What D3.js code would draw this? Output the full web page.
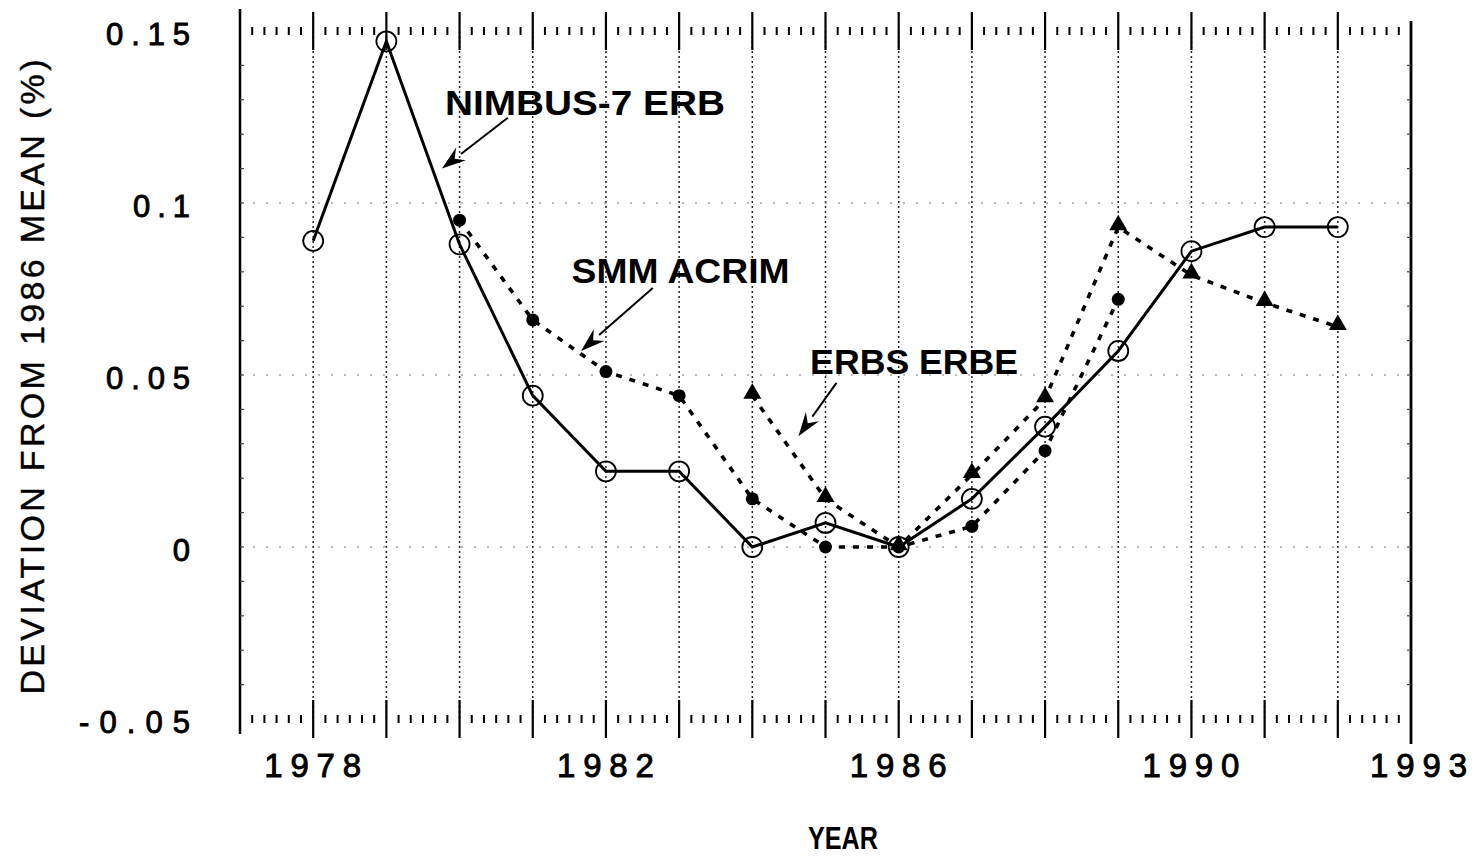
<!DOCTYPE html>
<html>
<head>
<meta charset="utf-8">
<script src="https://cdn.jsdelivr.net/npm/d3@7"></script>
<style>
  body { margin: 0; background: #fff; }
  svg { display: block; }
</style>
</head>
<body>
<svg id="chart" width="1476" height="857"></svg>
<script>
// data
var nimbusYears = [1978, 1979, 1980, 1981, 1982, 1983, 1984, 1985, 1986, 1987, 1988, 1989, 1990, 1991, 1992];
var nimbusValues = [0.089, 0.147, 0.088, 0.044, 0.022, 0.022, 0.0, 0.007, 0.0, 0.014, 0.035, 0.057, 0.086, 0.093, 0.093];

var acrimYears = [1980, 1981, 1982, 1983, 1984, 1985, 1986, 1987, 1988, 1989];
var acrimValues = [0.095, 0.066, 0.051, 0.044, 0.014, 0.0, 0.0, 0.006, 0.028, 0.072];

var erbeYears = [1984, 1985, 1986, 1987, 1988, 1989, 1990, 1991, 1992];
var erbeValues = [0.044, 0.014, 0.0, 0.021, 0.043, 0.093, 0.079, 0.071, 0.064];

var yTickValues = [0.15, 0.1, 0.05, 0, -0.05];
var yTickLabels = ["0.15", "0.1", "0.05", "0", "-0.05"];
var xTickValues = [1978, 1982, 1986, 1990, 1993];
var gridYears = d3.range(1978, 1993);
var hGrid = [0.1, 0.05, 0];

// plot box
var margin = {left: 240, right: 1411, top: 31, bottom: 719};

var x = d3.scaleLinear().domain([1977, 1993]).range([margin.left, margin.right]);
var y = d3.scaleLinear().domain([-0.05, 0.15]).range([margin.bottom, margin.top]);

var svg = d3.select("#chart");
var font = "'Liberation Sans', Arial, Helvetica, sans-serif";

// vertical dotted gridlines
svg.append("g").selectAll("line")
    .data(gridYears)
    .enter().append("line")
    .attr("x1", d => x(d)).attr("x2", d => x(d))
    .attr("y1", y(0.15)).attr("y2", y(-0.05))
    .attr("stroke", "#222")
    .attr("stroke-width", 1.5)
    .attr("stroke-dasharray", "2,3");

// faint horizontal gridlines
svg.append("g").selectAll("line")
    .data(hGrid)
    .enter().append("line")
    .attr("x1", x(1977)).attr("x2", x(1993))
    .attr("y1", d => y(d)).attr("y2", d => y(d))
    .attr("stroke", "#777")
    .attr("stroke-width", 1)
    .attr("stroke-dasharray", "2,11");

// spines
svg.append("line").attr("x1", x(1977)).attr("x2", x(1977))
    .attr("y1", y(0.15) - 22).attr("y2", y(-0.05) + 15)
    .attr("stroke", "#000").attr("stroke-width", 2.5);
svg.append("line").attr("x1", x(1993)).attr("x2", x(1993))
    .attr("y1", y(0.15) - 10).attr("y2", y(-0.05) + 25)
    .attr("stroke", "#000").attr("stroke-width", 2.8);

// tiny ticks on the spines every 0.01
var spineTicks = d3.range(-0.04, 0.1499, 0.01);
svg.append("g").selectAll("line")
    .data(spineTicks)
    .enter().append("line")
    .attr("x1", x(1977)).attr("x2", x(1977) + 4)
    .attr("y1", d => y(d)).attr("y2", d => y(d))
    .attr("stroke", "#444").attr("stroke-width", 1.2);
svg.append("g").selectAll("line")
    .data(spineTicks)
    .enter().append("line")
    .attr("x1", x(1993)).attr("x2", x(1993) - 4)
    .attr("y1", d => y(d)).attr("y2", d => y(d))
    .attr("stroke", "#444").attr("stroke-width", 1.2);

// top and bottom tick rows (no solid frame line)
var minorTicks = [];
d3.range(1977, 1993).forEach(function(yr) {
    for (var k = 1; k <= 5; k++) minorTicks.push(yr + k / 6);
});
[y(0.15), y(-0.05)].forEach(function(rowY) {
    var row = svg.append("g");
    row.selectAll("line.minor")
        .data(minorTicks)
        .enter().append("line")
        .attr("class", "minor")
        .attr("x1", d => x(d)).attr("x2", d => x(d))
        .attr("y1", rowY - 4).attr("y2", rowY + 4)
        .attr("stroke", "#000").attr("stroke-width", 2);
    row.selectAll("line.major")
        .data(gridYears)
        .enter().append("line")
        .attr("class", "major")
        .attr("x1", d => x(d)).attr("x2", d => x(d))
        .attr("y1", rowY - 19).attr("y2", rowY + 19)
        .attr("stroke", "#000").attr("stroke-width", 2.2);
});

// y tick labels
var yAxis = svg.append("g")
    .attr("transform", "translate(" + x(1977) + ",0)")
    .call(d3.axisLeft(y).tickValues(yTickValues).tickSize(0).tickPadding(50)
        .tickFormat((d, i) => yTickLabels[i]));
yAxis.select(".domain").remove();
yAxis.selectAll("text")
    .attr("dy", "0.45em")
    .attr("textLength", function() { return this.textContent.length > 1 ? (this.textContent.length - 1) * 27 + 3 : null; })
    .attr("lengthAdjust", "spacing")
    .style("font-family", font)
    .style("font-size", "31px")
    .style("fill", "#000")
    .style("stroke", "#000")
    .style("stroke-width", 0.9);

// x tick labels
var xAxis = svg.append("g")
    .attr("transform", "translate(0," + y(-0.05) + ")")
    .call(d3.axisBottom(x).tickValues(xTickValues).tickSize(0).tickPadding(35)
        .tickFormat(d3.format("d")));
xAxis.select(".domain").remove();
xAxis.selectAll("text")
    .attr("textLength", 97)
    .attr("lengthAdjust", "spacing")
    .attr("dx", d => d === 1993 ? 7 : -1)
    .style("font-family", font)
    .style("font-size", "33px")
    .style("fill", "#000")
    .style("stroke", "#000")
    .style("stroke-width", 0.9);

// axis titles
svg.append("text")
    .attr("transform", "translate(44," + ((y(0.15) + y(-0.05)) / 2 + 2) + ") rotate(-90)")
    .attr("text-anchor", "middle")
    .attr("textLength", 635)
    .attr("lengthAdjust", "spacing")
    .style("font-family", font)
    .style("font-size", "34px")
    .style("stroke", "#000").style("stroke-width", 0.4)
    .text("DEVIATION FROM 1986 MEAN (%)");

svg.append("text")
    .attr("x", 843).attr("y", 849)
    .attr("text-anchor", "middle")
    .attr("textLength", 70)
    .attr("lengthAdjust", "spacingAndGlyphs")
    .style("font-family", font)
    .style("font-size", "32px")
    .style("font-weight", "bold")
    .text("YEAR");

// series lines
var line = d3.line().x(d => x(d[0])).y(d => y(d[1]));
var nimbus = d3.zip(nimbusYears, nimbusValues);
var acrim = d3.zip(acrimYears, acrimValues);
var erbe = d3.zip(erbeYears, erbeValues);

[acrim, erbe].forEach(function(series) {
    svg.append("path")
        .datum(series)
        .attr("d", line)
        .attr("fill", "none")
        .attr("stroke", "#000")
        .attr("stroke-width", 3.6)
        .attr("stroke-dasharray", "6,8");
});
svg.append("path")
    .datum(nimbus)
    .attr("d", line)
    .attr("fill", "none")
    .attr("stroke", "#000")
    .attr("stroke-width", 3);

// markers
svg.append("g").selectAll("circle")
    .data(acrim)
    .enter().append("circle")
    .attr("cx", d => x(d[0])).attr("cy", d => y(d[1]))
    .attr("r", 6.5)
    .attr("fill", "#000");

svg.append("g").selectAll("path")
    .data(erbe)
    .enter().append("path")
    .attr("d", d3.symbol().type(d3.symbolTriangle).size(140))
    .attr("transform", d => "translate(" + x(d[0]) + "," + (y(d[1]) - 2) + ")")
    .attr("fill", "#000");

svg.append("g").selectAll("circle")
    .data(nimbus)
    .enter().append("circle")
    .attr("cx", d => x(d[0])).attr("cy", d => y(d[1]))
    .attr("r", 10)
    .attr("fill", "none")
    .attr("stroke", "#000")
    .attr("stroke-width", 1.8);

// annotations, in data units
var notes = [
    {label: "NIMBUS-7  ERB", tx: 1979.80, ty: 0.1255, len: 280, x0: 1980.66, y0: 0.1248, x1: 1979.76, y1: 0.1100},
    {label: "SMM ACRIM", tx: 1981.53, ty: 0.0767, len: 218, x0: 1982.64, y0: 0.0753, x1: 1981.66, y1: 0.0570},
    {label: "ERBS ERBE", tx: 1984.79, ty: 0.0502, len: 208, x0: 1985.15, y0: 0.0477, x1: 1984.63, y1: 0.0322}
];

notes.forEach(function(n) {
    svg.append("text")
        .attr("x", x(n.tx)).attr("y", y(n.ty))
        .attr("textLength", n.len)
        .attr("lengthAdjust", "spacingAndGlyphs")
        .style("font-family", font)
        .style("font-size", "35px")
        .style("font-weight", "bold")
        .text(n.label);

    var ax0 = x(n.x0), ay0 = y(n.y0), ax1 = x(n.x1), ay1 = y(n.y1);
    var ang = Math.atan2(ay1 - ay0, ax1 - ax0);
    var headLen = 24, headW = 8;
    var bx = ax1 - headLen * Math.cos(ang), by = ay1 - headLen * Math.sin(ang);
    svg.append("line")
        .attr("x1", ax0).attr("y1", ay0)
        .attr("x2", bx).attr("y2", by)
        .attr("stroke", "#000").attr("stroke-width", 2);
    var px = -Math.sin(ang) * headW, py = Math.cos(ang) * headW;
    svg.append("path")
        .attr("d", "M" + ax1 + "," + ay1 +
            "L" + (bx + px) + "," + (by + py) +
            "L" + (ax1 - 16 * Math.cos(ang)) + "," + (ay1 - 16 * Math.sin(ang)) +
            "L" + (bx - px) + "," + (by - py) + "Z")
        .attr("fill", "#000");
});
</script>
</body>
</html>
